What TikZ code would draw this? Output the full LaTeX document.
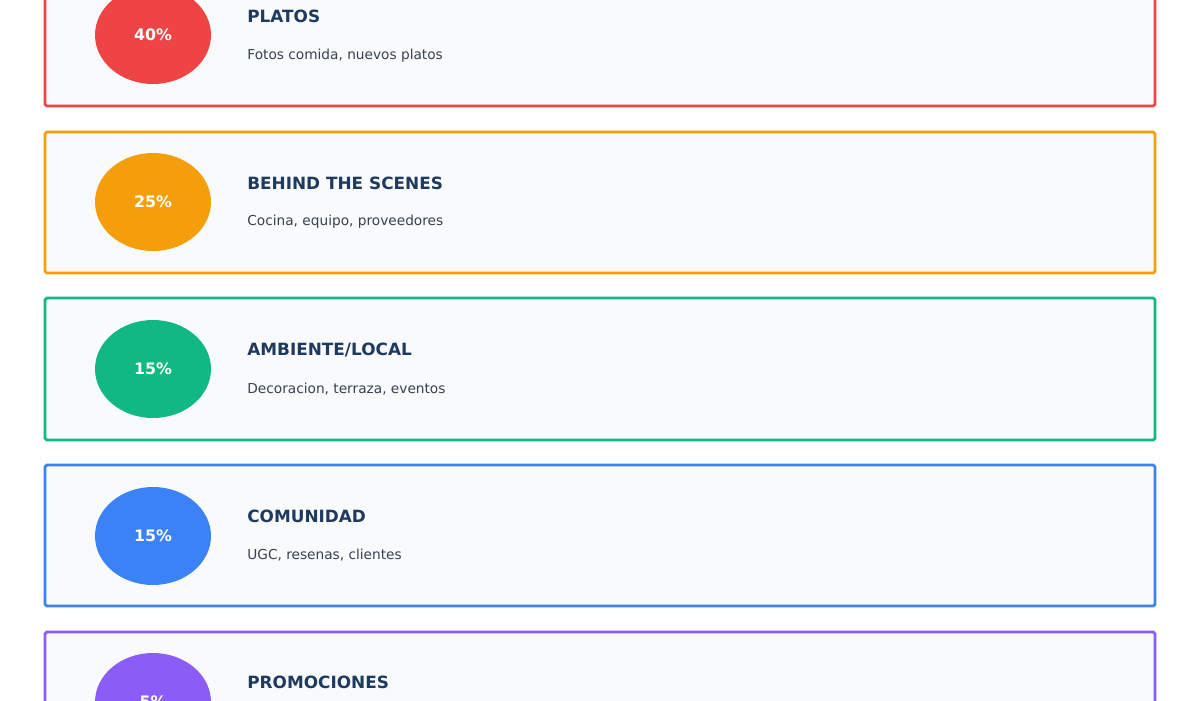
\documentclass[tikz,border=0pt]{standalone}
\usepackage{fontspec}
\setmainfont{DejaVu Sans}
\usetikzlibrary{shapes.geometric}
\definecolor{cRed}{HTML}{EF4444}
\definecolor{cAmber}{HTML}{F59E0B}
\definecolor{cGreen}{HTML}{10B981}
\definecolor{cBlue}{HTML}{3B82F6}
\definecolor{cPurple}{HTML}{8B5CF6}
\definecolor{boxFill}{HTML}{F8FAFC}
\definecolor{titleCol}{HTML}{1E3A5F}
\definecolor{subCol}{HTML}{374151}

\begin{document}
\begin{tikzpicture}[x=0.02cm,y=-0.02cm,
  card/.style={draw=#1,line width=1.6pt,fill=boxFill,rounded corners=1pt},
  badge/.style={ellipse,fill=#1,minimum width=2.32cm,minimum height=1.96cm,inner sep=0pt,
    text=white,font=\fontsize{9}{10}\selectfont\bfseries},
  title/.style={anchor=west,text=titleCol,font=\fontsize{9.6}{11}\selectfont\bfseries,inner sep=0pt},
  sub/.style={anchor=west,text=subCol,font=\fontsize{7.8}{9}\selectfont,inner sep=0pt}]

\useasboundingbox (0,0) rectangle (1200,700);
\clip (0,0) rectangle (1200,700);

\draw[card=cRed] (45,-35) rectangle (1155,106);
\draw[card=cAmber] (45,132) rectangle (1155,273);
\draw[card=cGreen] (45,298) rectangle (1155,440);
\draw[card=cBlue] (45,465) rectangle (1155,606);
\draw[card=cPurple] (45,632) rectangle (1155,773);

\node[badge=cRed](B1) at (153,35) {40\%};
\node[badge=cAmber](B2) at (153,202) {25\%};
\node[badge=cGreen](B3) at (153,369) {15\%};
\node[badge=cBlue](B4) at (153,536) {15\%};
\node[badge=cPurple](B5) at (153,702) {5\%};

\node[title](T1) at (247,16) {PLATOS};
\node[sub](S1) at (247,56) {Fotos comida, nuevos platos};
\node[title](T2) at (247,183) {BEHIND THE SCENES};
\node[sub](S2) at (247,222) {Cocina, equipo, proveedores};
\node[title](T3) at (247,350) {AMBIENTE/LOCAL};
\node[sub](S3) at (247,389) {Decoracion, terraza, eventos};
\node[title](T4) at (247,516) {COMUNIDAD};
\node[sub](S4) at (247,555) {UGC, resenas, clientes};
\node[title](T5) at (247,682) {PROMOCIONES};

\end{tikzpicture}
\end{document}
